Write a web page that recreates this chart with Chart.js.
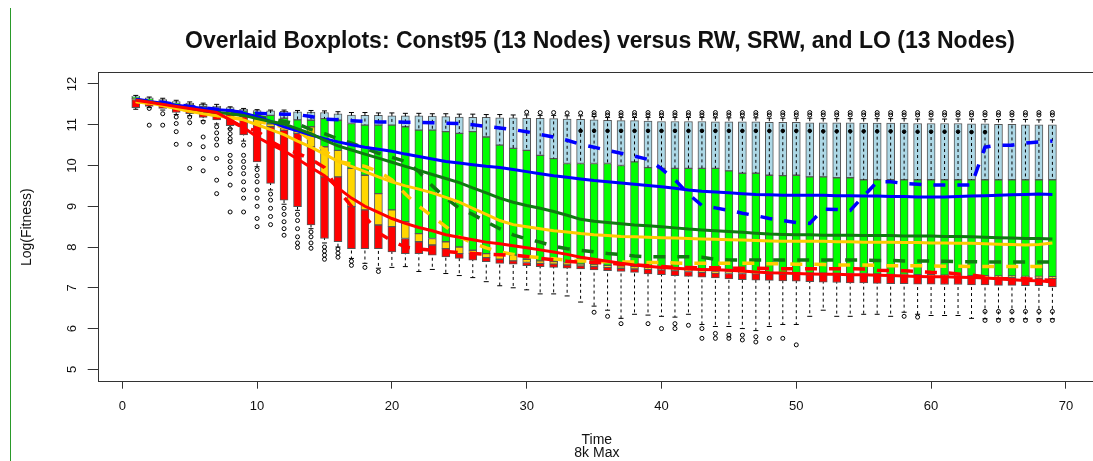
<!DOCTYPE html>
<html>
<head>
<meta charset="utf-8">
<title>Overlaid Boxplots</title>
<script src="https://cdn.jsdelivr.net/npm/chart.js@4.4.1/dist/chart.umd.min.js"></script>
<style>
  html, body { margin: 0; padding: 0; background: #fff; overflow: hidden; }
  #wrap { position: relative; width: 1093px; height: 461px; overflow: hidden; }
  #edge { position: absolute; left: 10px; top: 8px; bottom: 0; width: 1px; background: #2a9a2a; }
  canvas { position: absolute; left: 0; top: 0; }
</style>
</head>
<body>
<div id="wrap">
  <canvas id="boxChart" width="1200" height="461"></canvas>
  <div id="edge"></div>
</div>
<script>
var titleText = "Overlaid Boxplots: Const95 (13 Nodes) versus RW, SRW, and LO (13 Nodes)";
var xTicks = [0, 10, 20, 30, 40, 50, 60, 70];
var yTicks = [5, 6, 7, 8, 9, 10, 11, 12];

var times = [1,2,3,4,5,6,7,8,9,10,11,12,13,14,15,16,17,18,19,20,21,22,23,24,25,26,27,28,29,30,
  31,32,33,34,35,36,37,38,39,40,41,42,43,44,45,46,47,48,49,50,51,52,53,54,55,56,57,58,59,60,
  61,62,63,64,65,66,67,68,69];

// upper box edges of each method (Const95, RW, SRW, LO) and bottom of LO box
var q3C = [11.70,11.66,11.62,11.57,11.53,11.50,11.46,11.42,11.38,11.35,
  11.34,11.33,11.32,11.31,11.30,11.27,11.24,11.23,11.23,11.22,
  11.22,11.22,11.21,11.20,11.19,11.18,11.18,11.17,11.17,11.16,
  11.16,11.15,11.14,11.13,11.12,11.11,11.10,11.10,11.09,11.08,
  11.08,11.08,11.08,11.07,11.07,11.07,11.07,11.06,11.06,11.06,
  11.05,11.05,11.05,11.05,11.04,11.04,11.04,11.04,11.03,11.03,
  11.03,11.03,11.02,11.02,11.01,11.01,11.00,11.00,11.00];
var q3RW = [11.68,11.63,11.58,11.53,11.49,11.45,11.41,11.38,11.34,11.31,
  11.23,11.16,11.12,11.11,11.15,11.11,11.03,10.99,10.99,10.99,
  10.95,10.87,10.87,10.83,10.79,10.83,10.70,10.50,10.42,10.37,
  10.25,10.17,10.05,10.05,10.05,10.05,10.00,10.09,9.95,9.93,
  9.93,9.93,9.93,9.93,9.87,9.81,9.81,9.76,9.75,9.76,
  9.72,9.72,9.70,9.70,9.65,9.65,9.65,9.65,9.65,9.65,
  9.65,9.65,9.65,9.65,9.65,9.65,9.65,9.65,9.65];
var q3SRW = [11.64,11.60,11.55,11.50,11.45,11.41,11.37,11.33,11.26,11.12,
  11.02,10.92,10.84,10.95,10.46,10.37,9.93,9.76,9.31,8.91,
  8.62,8.33,8.21,8.13,8.00,7.92,7.84,7.84,7.80,7.70,
  7.66,7.64,7.62,7.58,7.56,7.55,7.54,7.52,7.50,7.48,
  7.46,7.44,7.42,7.40,7.40,7.39,7.38,7.38,7.37,7.37,
  7.36,7.36,7.35,7.35,7.35,7.34,7.33,7.33,7.32,7.32,
  7.31,7.31,7.30,7.30,7.29,7.29,7.28,7.28,7.27];
var q3LO = [11.62,11.58,11.53,11.47,11.42,11.37,11.33,11.28,11.20,11.00,
  10.95,10.87,10.79,10.46,9.72,9.72,8.99,8.91,8.54,8.50,
  8.21,8.13,8.05,7.96,7.84,7.84,7.74,7.70,7.66,7.62,
  7.60,7.58,7.56,7.54,7.52,7.50,7.48,7.46,7.45,7.44,
  7.42,7.40,7.38,7.36,7.35,7.35,7.34,7.34,7.33,7.33,
  7.32,7.32,7.32,7.31,7.31,7.31,7.30,7.29,7.28,7.28,
  7.27,7.27,7.26,7.26,7.25,7.25,7.24,7.24,7.23];
var q1LO = [11.42,11.45,11.40,11.30,11.27,11.18,11.12,10.98,10.75,10.09,
  9.56,9.15,8.99,8.54,8.21,8.13,7.96,7.96,7.96,7.88,
  7.84,7.84,7.80,7.76,7.72,7.68,7.64,7.60,7.58,7.54,
  7.52,7.50,7.48,7.46,7.44,7.42,7.40,7.38,7.34,7.32,
  7.30,7.28,7.26,7.24,7.22,7.20,7.19,7.18,7.17,7.16,
  7.15,7.14,7.13,7.12,7.12,7.11,7.10,7.10,7.09,7.09,
  7.08,7.08,7.07,7.07,7.06,7.06,7.05,7.05,7.02];

// whisker ends
var hiCap = [11.72,11.68,11.65,11.60,11.56,11.53,11.50,11.44,11.40,11.37,
  11.36,11.36,11.35,11.35,11.34,11.32,11.30,11.30,11.29,11.29,
  11.28,11.28,11.27,11.27,11.26,11.26,11.25,11.25,11.24,11.24,
  11.23,11.23,11.22,11.22,11.20,11.18,11.18,11.18,11.18,11.18,
  11.18,11.18,11.18,11.17,11.17,11.17,11.17,11.16,11.16,11.16,
  11.16,11.15,11.15,11.15,11.15,11.15,11.15,11.15,11.14,11.14,
  11.14,11.14,11.14,11.13,11.13,11.13,11.13,11.12,11.12];
var loCap = [11.38,11.42,11.36,11.25,11.22,11.10,11.02,10.90,10.60,9.97,
  9.40,9.05,8.90,8.45,8.10,8.00,7.72,7.60,7.48,7.50,
  7.52,7.40,7.45,7.35,7.30,7.25,7.15,7.05,7.00,6.95,
  6.85,6.85,6.80,6.65,6.55,6.45,6.25,6.35,6.33,6.30,
  6.28,6.35,6.10,6.05,6.05,6.00,5.95,6.05,6.10,6.10,
  6.30,6.45,6.30,6.30,6.35,6.35,6.30,6.40,6.35,6.32,
  6.32,6.32,6.25,6.24,6.24,6.24,6.24,6.24,6.24];

// means (solid lines)
var meanC = [11.62,11.57,11.53,11.48,11.44,11.40,11.37,11.35,11.28,11.20,
  11.08,10.95,10.85,10.75,10.66,10.58,10.51,10.45,10.40,10.35,
  10.28,10.22,10.16,10.10,10.06,10.02,9.98,9.95,9.90,9.85,
  9.80,9.75,9.71,9.67,9.63,9.60,9.57,9.54,9.51,9.48,
  9.44,9.40,9.37,9.35,9.33,9.31,9.29,9.28,9.27,9.27,
  9.27,9.27,9.26,9.26,9.25,9.25,9.24,9.24,9.23,9.23,
  9.23,9.24,9.25,9.26,9.27,9.28,9.29,9.30,9.29];
var meanRW = [11.60,11.55,11.50,11.42,11.38,11.33,11.30,11.27,11.23,11.15,
  11.08,11.02,10.90,10.78,10.62,10.48,10.38,10.28,10.18,10.08,
  9.98,9.88,9.78,9.68,9.58,9.45,9.33,9.20,9.10,9.02,
  8.95,8.87,8.78,8.68,8.63,8.60,8.57,8.54,8.52,8.50,
  8.47,8.44,8.42,8.40,8.38,8.36,8.34,8.32,8.31,8.30,
  8.30,8.29,8.29,8.29,8.28,8.28,8.28,8.27,8.27,8.27,
  8.26,8.26,8.25,8.24,8.23,8.22,8.21,8.21,8.20];
var meanSRW = [11.57,11.53,11.47,11.40,11.33,11.27,11.22,11.17,11.12,11.00,
  10.88,10.76,10.60,10.45,10.28,10.10,9.98,9.85,9.72,9.60,
  9.50,9.42,9.33,9.22,9.10,8.95,8.80,8.65,8.55,8.50,
  8.45,8.40,8.37,8.33,8.30,8.28,8.26,8.25,8.24,8.23,
  8.22,8.21,8.20,8.19,8.18,8.17,8.16,8.15,8.14,8.14,
  8.14,8.14,8.13,8.13,8.12,8.12,8.12,8.11,8.11,8.10,
  8.10,8.09,8.09,8.08,8.07,8.06,8.05,8.06,8.10];
var meanLO = [11.60,11.55,11.50,11.45,11.40,11.35,11.30,11.12,10.93,10.70,
  10.52,10.36,10.16,9.95,9.75,9.45,9.20,9.00,8.85,8.70,
  8.58,8.48,8.40,8.30,8.24,8.18,8.12,8.08,8.03,7.98,
  7.93,7.88,7.82,7.75,7.70,7.65,7.60,7.56,7.53,7.50,
  7.48,7.46,7.45,7.44,7.43,7.41,7.39,7.37,7.36,7.35,
  7.34,7.33,7.33,7.32,7.32,7.31,7.30,7.29,7.28,7.27,
  7.27,7.26,7.25,7.24,7.22,7.20,7.18,7.17,7.14];

// medians (dashed lines)
var medC = [11.62,11.58,11.55,11.50,11.45,11.42,11.38,11.34,11.30,11.28,
  11.27,11.26,11.25,11.20,11.14,11.12,11.10,11.08,11.07,11.07,
  11.06,11.06,11.05,11.04,11.03,11.00,10.96,10.92,10.88,10.83,
  10.76,10.70,10.62,10.52,10.45,10.37,10.30,10.23,10.15,9.92,
  9.65,9.30,9.02,8.96,8.90,8.83,8.77,8.70,8.65,8.60,
  8.58,8.93,8.92,8.90,9.25,9.60,9.60,9.56,9.54,9.52,
  9.52,9.52,9.52,10.45,10.50,10.50,10.55,10.58,10.60];
var medRW = [11.60,11.55,11.50,11.43,11.38,11.34,11.30,11.27,11.24,11.20,
  11.15,11.08,11.02,10.88,10.78,10.65,10.55,10.42,10.30,10.20,
  10.10,9.85,9.50,9.20,8.95,8.80,8.62,8.45,8.30,8.20,
  8.12,8.02,7.96,7.92,7.88,7.84,7.82,7.78,7.76,7.76,
  7.76,7.76,7.75,7.70,7.68,7.68,7.68,7.68,7.68,7.68,
  7.68,7.68,7.68,7.68,7.68,7.67,7.67,7.66,7.66,7.66,
  7.65,7.64,7.64,7.63,7.63,7.63,7.63,7.63,7.63];
var medSRW = [11.57,11.53,11.48,11.41,11.34,11.28,11.23,11.18,11.14,11.08,
  11.02,10.94,10.86,10.62,10.38,10.10,10.04,9.98,9.85,9.65,
  9.30,9.00,8.75,8.50,8.25,8.10,7.98,7.88,7.82,7.77,
  7.74,7.71,7.68,7.66,7.65,7.64,7.63,7.63,7.62,7.62,
  7.61,7.60,7.60,7.60,7.60,7.60,7.60,7.59,7.59,7.58,
  7.58,7.57,7.56,7.56,7.56,7.55,7.54,7.54,7.54,7.54,
  7.53,7.53,7.52,7.52,7.52,7.52,7.52,7.52,7.52];
var medLO = [11.60,11.55,11.50,11.45,11.40,11.35,11.28,11.10,10.93,10.85,
  10.60,10.42,10.30,10.15,9.95,9.40,9.00,8.75,8.35,8.15,
  8.00,7.95,7.92,7.89,7.86,7.84,7.82,7.81,7.80,7.77,
  7.72,7.69,7.65,7.63,7.62,7.61,7.58,7.56,7.54,7.52,
  7.50,7.50,7.49,7.49,7.48,7.48,7.48,7.47,7.47,7.47,
  7.47,7.47,7.47,7.47,7.46,7.43,7.42,7.42,7.40,7.38,
  7.37,7.34,7.31,7.27,7.23,7.22,7.22,7.20,7.18];

// outlying points [time, value]
var outliers = [[2,11.40],[2,10.99],[3,11.27],[3,10.99],
  [4,11.19],[4,11.03],[4,10.83],[4,10.52],[5,11.19],[5,11.05],[5,10.52],[5,9.93],
  [6,11.07],[6,10.70],[6,10.46],[6,10.17],[6,9.87],
  [7,10.95],[7,10.80],[7,10.65],[7,10.50],[7,10.17],[7,9.64],[7,9.31],
  [8,10.90],[8,10.78],[8,10.66],[8,10.58],[8,10.25],[8,10.10],[8,9.95],[8,9.80],[8,9.52],[8,8.86],
  [9,10.50],[9,10.25],[9,10.10],[9,9.95],[9,9.80],[9,9.60],[9,9.40],[9,9.20],[9,8.86],
  [10,9.90],[10,9.75],[10,9.60],[10,9.40],[10,9.20],[10,9.00],[10,8.70],[10,8.50],
  [11,9.30],[11,9.15],[11,8.95],[11,8.75],[11,8.55],
  [12,8.95],[12,8.80],[12,8.62],[12,8.45],[12,8.29],
  [13,8.80],[13,8.65],[13,8.45],[13,8.25],[13,8.10],[13,7.99],
  [14,8.37],[14,8.25],[14,8.10],[14,7.97],[15,8.00],[15,7.90],[15,7.80],[15,7.70],
  [16,7.95],[16,7.85],[16,7.75],[17,7.65],[17,7.55],[18,7.50],[19,7.40],
  [35,6.40],[36,6.30],[37,6.12],[39,6.12],[40,6.00],[41,6.12],[41,6.00],[42,6.08],
  [43,6.00],[43,5.76],[44,5.88],[44,5.76],[45,5.84],[45,5.76],[46,5.84],[46,5.72],
  [47,5.80],[47,5.67],[48,5.76],[49,5.76],[50,5.60],[58,6.30],[59,6.28],
  [64,6.42],[64,6.20],[65,6.42],[65,6.20],[66,6.42],[66,6.20],[67,6.42],[67,6.20],
  [68,6.42],[68,6.20],[69,6.42],[69,6.20]];
var upperOutliers = [[30,11.31],[31,11.30],[32,11.30],[33,11.29],[34,11.29],
  [35,11.24],[35,11.30],[36,11.24],[36,11.30],[37,11.24],[37,11.30],[38,11.24],[38,11.30],
  [39,11.24],[39,11.30],[40,11.24],[40,11.30],[41,11.24],[41,11.30],[42,11.24],[42,11.30],
  [43,11.24],[43,11.30],[44,11.24],[44,11.30],[45,11.24],[45,11.30],[46,11.24],[46,11.30],
  [47,11.24],[47,11.30],[48,11.24],[48,11.30],[49,11.24],[49,11.30],[50,11.24],[50,11.30],
  [51,11.24],[51,11.30],[52,11.24],[52,11.30],[53,11.24],[53,11.30],[54,11.24],[54,11.30],
  [55,11.24],[55,11.30],[56,11.24],[56,11.30],[57,11.24],[57,11.30],[58,11.24],[58,11.30],
  [59,11.24],[59,11.30],[60,11.24],[60,11.30],[61,11.24],[61,11.30],[62,11.24],[62,11.30],
  [63,11.24],[63,11.30],[64,11.24],[64,11.30],[65,11.24],[65,11.30],[66,11.24],[66,11.30],
  [67,11.24],[67,11.30],[68,11.24],[68,11.30],[69,11.24],[69,11.30]];
var denseOutliers = [[34,10.85],[35,10.85],[36,10.85],[37,10.85],[38,10.85],[39,10.85],
  [40,10.85],[41,10.85],[42,10.85],[43,10.85],[44,10.85],[45,10.85],[46,10.85],[47,10.85],
  [48,10.85],[49,10.85],[50,10.85],[51,10.85],[52,10.84],[53,10.84],[54,10.84],[55,10.84],
  [56,10.84],[57,10.84],[58,10.83],[59,10.83],[60,10.83],[61,10.83],[62,10.83],[63,10.82],
  [64,10.82]];

var fontFamily = "'Liberation Sans', Arial, Helvetica, sans-serif";
Chart.defaults.font.family = fontFamily;

function boxes(lo, hi) {
  return times.map(function (t, i) { return { x: t, y: [lo[i], hi[i]] }; });
}
function series(arr) {
  return times.map(function (t, i) { return { x: t, y: arr[i] }; });
}
function pairs(list) {
  return list.map(function (p) { return { x: p[0], y: p[1] }; });
}

var whiskerPts = [];
var capPts = [];
times.forEach(function (t, i) {
  whiskerPts.push({ x: t, y: hiCap[i] }, { x: t, y: loCap[i] }, { x: t, y: null });
  capPts.push({ x: t, y: hiCap[i] }, { x: t, y: loCap[i] });
});

function boxSet(label, data, color, order) {
  return {
    type: "bar", label: label, data: data, backgroundColor: color,
    borderColor: "#555555", borderWidth: 1, borderSkipped: false,
    barThickness: 8, grouped: false, order: order, xAxisID: "x", yAxisID: "y"
  };
}
function lineSet(label, data, color, dashed, order) {
  return {
    type: "line", label: label, data: data, borderColor: color,
    borderWidth: dashed ? 3.5 : 3, borderDash: dashed ? [12, 12] : [],
    pointRadius: 0, fill: false, tension: 0, order: order, xAxisID: "x", yAxisID: "y"
  };
}

var ctx = document.getElementById("boxChart");

var chart = new Chart(ctx, {
  type: "bar",
  data: {
    datasets: [
      boxSet("Const95", boxes(q3RW, q3C), "#add8e6", 30),
      {
        type: "line", label: "whiskers", data: whiskerPts, borderColor: "#000",
        borderWidth: 1, borderDash: [3, 3], pointRadius: 0, spanGaps: false,
        order: 29, xAxisID: "x", yAxisID: "y"
      },
      boxSet("RW", boxes(q3SRW, q3RW), "#00ff00", 28),
      boxSet("SRW", boxes(q3LO, q3SRW), "#ffd700", 27),
      boxSet("LO", boxes(q1LO, q3LO), "#ff0000", 26),
      {
        type: "scatter", label: "caps", data: capPts, pointStyle: "line",
        pointRadius: 2.5, pointBorderWidth: 1, pointBorderColor: "#000",
        order: 25, xAxisID: "x", yAxisID: "y"
      },
      {
        type: "scatter", label: "outliers",
        data: pairs(outliers).concat(pairs(upperOutliers)), pointStyle: "circle",
        pointRadius: 2, pointBorderWidth: 1, pointBorderColor: "#000",
        pointBackgroundColor: "rgba(255,255,255,0)", order: 24, xAxisID: "x", yAxisID: "y"
      },
      {
        type: "scatter", label: "dense outliers", data: pairs(denseOutliers),
        pointStyle: "circle", pointRadius: 1.8, pointBorderWidth: 1,
        pointBorderColor: "#000", pointBackgroundColor: "#000",
        order: 23, xAxisID: "x", yAxisID: "y"
      },
      lineSet("Const95 median", series(medC), "#0000ff", true, 13),
      lineSet("RW median", series(medRW), "#117a11", true, 12),
      lineSet("SRW median", series(medSRW), "#ffcc00", true, 11),
      lineSet("LO median", series(medLO), "#ff0000", true, 10),
      lineSet("Const95 mean", series(meanC), "#0000ff", false, 8),
      lineSet("RW mean", series(meanRW), "#117a11", false, 7),
      lineSet("SRW mean", series(meanSRW), "#ffcc00", false, 6),
      lineSet("LO mean", series(meanLO), "#ff0000", false, 5)
    ]
  },
  options: {
    responsive: false,
    animation: false,
    events: [],
    layout: { padding: 0 },
    plugins: {
      legend: { display: false },
      tooltip: { enabled: false },
      title: {
        display: true,
        text: titleText,
        color: "#111",
        font: { family: fontFamily, size: 23, weight: "bold" },
        padding: { top: 28.2, bottom: 16.9 }
      }
    },
    scales: {
      x: {
        type: "linear", position: "bottom", min: -1.75, max: 72.16, offset: false,
        afterBuildTicks: function (s) { s.ticks = xTicks.map(function (v) { return { value: v }; }); },
        afterFit: function (s) { s.height = 79.3; },
        grid: { drawOnChartArea: false, tickLength: 7, color: "#333", offset: false },
        border: { display: true, color: "#333", width: 1 },
        ticks: { padding: 10, color: "#111", font: { size: 13 }, maxRotation: 0, autoSkip: false },
        title: {
          display: true, text: ["Time", "8k Max"], color: "#111",
          font: { size: 14, lineHeight: "13px" }, padding: { top: 0, bottom: 1.5 }
        }
      },
      xTop: {
        type: "linear", position: "top", min: -1.75, max: 72.16,
        ticks: { display: false }, grid: { display: false, drawTicks: false },
        border: { display: true, color: "#333", width: 1 },
        afterFit: function (s) { s.height = 0; }
      },
      y: {
        type: "linear", position: "left", min: 4.696, max: 12.277, beginAtZero: false,
        afterBuildTicks: function (s) { s.ticks = yTicks.map(function (v) { return { value: v }; }); },
        afterFit: function (s) { s.width = 98.7; },
        grid: { drawOnChartArea: false, tickLength: 11, color: "#333" },
        border: { display: true, color: "#333", width: 1 },
        ticks: { minRotation: 90, maxRotation: 90, crossAlign: "center", padding: 8, color: "#111", font: { size: 13 } },
        title: {
          display: true, text: "Log(Fitness)", color: "#111",
          font: { size: 14 }, padding: { top: 18.3, bottom: 0 }
        }
      },
      yRight: {
        type: "linear", position: "right",
        ticks: { display: false }, grid: { display: false }, border: { display: false },
        afterFit: function (s) { s.width = 105; }
      }
    }
  }
});
</script>
</body>
</html>
